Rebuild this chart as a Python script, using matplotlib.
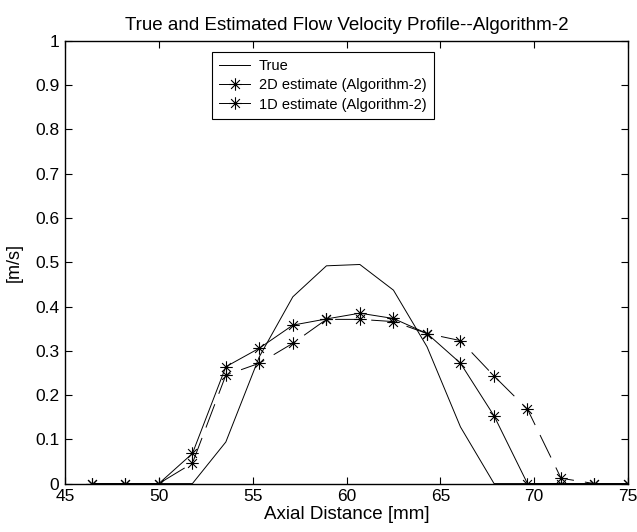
import matplotlib
matplotlib.use("Agg")
import matplotlib.pyplot as plt
from matplotlib.path import Path

plt.rcParams['font.family'] = ['Liberation Sans', 'DejaVu Sans']
plt.rcParams['lines.scale_dashes'] = False

axial_mm = [46.43, 48.21, 50.0, 51.79, 53.57, 55.36, 57.14, 58.93, 60.71,
            62.5, 64.29, 66.07, 67.86, 69.64, 71.43, 73.21, 75.0]
true_vel = [0, 0, 0, 0, 0.094, 0.287, 0.422, 0.492, 0.495,
            0.437, 0.309, 0.128, 0, 0, 0, 0, 0]
est_2d = [0, 0, 0, 0.068, 0.264, 0.306, 0.358, 0.372, 0.385,
          0.373, 0.339, 0.272, 0.153, 0, 0, 0, 0]
est_1d = [0, 0, 0, 0.046, 0.245, 0.272, 0.317, 0.371, 0.371,
          0.366, 0.339, 0.323, 0.243, 0.168, 0.012, 0, 0]

x_ticks = [45, 50, 55, 60, 65, 70, 75]
y_ticks = [0, 0.1, 0.2, 0.3, 0.4, 0.5, 0.6, 0.7, 0.8, 0.9, 1]
y_tick_labels = ['0', '0.1', '0.2', '0.3', '0.4', '0.5', '0.6', '0.7', '0.8', '0.9', '1']

# MATLAB-style asterisk marker (plus + cross)
d = 0.7071
asterisk = Path(
    [(0, -1), (0, 1), (-1, 0), (1, 0), (-d, -d), (d, d), (-d, d), (d, -d)],
    [Path.MOVETO, Path.LINETO] * 4)

fig = plt.figure(figsize=(6.37, 5.32), dpi=100)
ax = fig.add_axes([0.102, 0.091, 0.884, 0.832])

ax.plot(axial_mm, true_vel, color='black', lw=0.7, label='True')
ax.plot(axial_mm, est_2d, color='black', lw=0.7, marker=asterisk, ms=9,
        mew=0.8, mfc='none', label='2D estimate (Algorithm-2)')
ax.plot(axial_mm, est_1d, color='black', lw=0.7, marker=asterisk, ms=9,
        mew=0.8, mfc='none', dashes=(18, 8), label='1D estimate (Algorithm-2)')

ax.set_xlim(45, 75)
ax.set_ylim(0, 1)
ax.set_xticks(x_ticks)
ax.set_yticks(y_ticks)
ax.set_yticklabels(y_tick_labels)
ax.tick_params(direction='in', top=True, right=True, labelsize=12.5,
               length=5, width=0.8, pad=4)
for s in ax.spines.values():
    s.set_linewidth(1.0)

ax.set_title('True and Estimated Flow Velocity Profile--Algorithm-2',
             fontsize=13.5, pad=8)
ax.set_xlabel('Axial Distance [mm]', fontsize=13.5, labelpad=1)
ax.set_ylabel('[m/s]', fontsize=13, labelpad=9)

leg = ax.legend(loc='upper left', bbox_to_anchor=(0.261, 0.975),
                fontsize=10.5, frameon=True, fancybox=False,
                edgecolor='black', framealpha=1, borderpad=0.5,
                labelspacing=0.35, handlelength=2.1, handletextpad=0.6,
                borderaxespad=0)
leg.get_frame().set_linewidth(0.8)
for h in leg.get_lines():
    h.set_linestyle('-')

fig.savefig('out.png', dpi=100)
